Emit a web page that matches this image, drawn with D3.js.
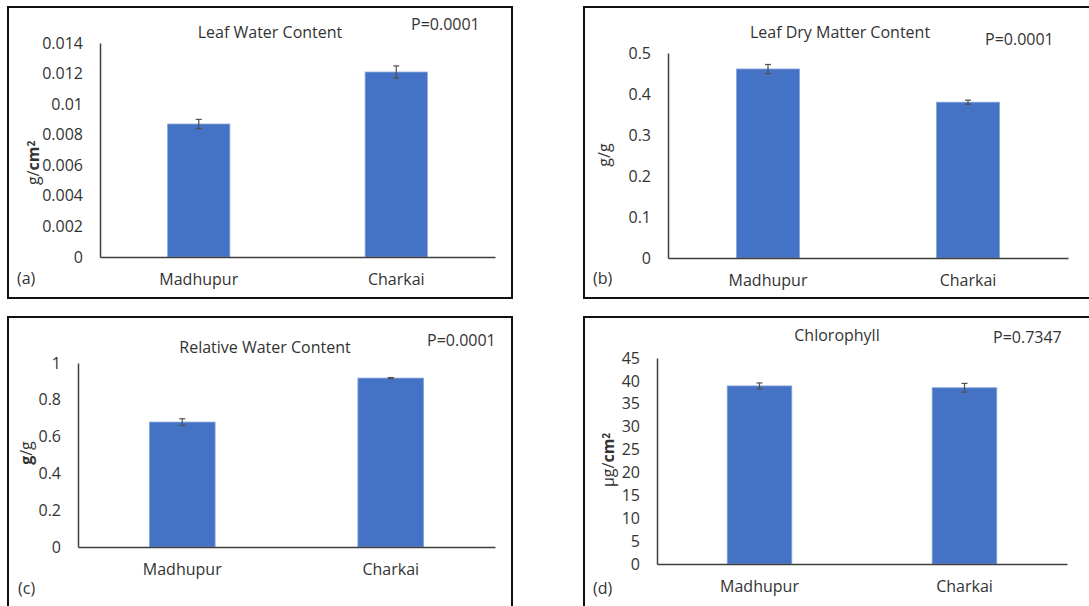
<!DOCTYPE html>
<html>
<head>
<meta charset="utf-8">
<script src="https://cdn.jsdelivr.net/npm/d3@7"></script>
<style>
  html, body { margin: 0; padding: 0; background: #fff; }
  svg { display: block; font-family: "Open Sans", sans-serif; }
</style>
</head>
<body>
<svg id="chart" width="1089" height="606"></svg>
<script>
// ---------------- DATA ----------------
const categories = ["Madhupur", "Charkai"];

const lwcMeans = [0.0087, 0.0121];
const lwcErrors = [0.0003, 0.0004];
const lwcTicks = [0, 0.002, 0.004, 0.006, 0.008, 0.01, 0.012, 0.014];
const lwcTickLabels = ["0", "0.002", "0.004", "0.006", "0.008", "0.01", "0.012", "0.014"];

const ldmcMeans = [0.461, 0.380];
const ldmcErrors = [0.011, 0.005];
const ldmcTicks = [0, 0.1, 0.2, 0.3, 0.4, 0.5];
const ldmcTickLabels = ["0", "0.1", "0.2", "0.3", "0.4", "0.5"];

const rwcMeans = [0.679, 0.918];
const rwcErrors = [0.018, 0.003];
const rwcTicks = [0, 0.2, 0.4, 0.6, 0.8, 1];
const rwcTickLabels = ["0", "0.2", "0.4", "0.6", "0.8", "1"];

const chlMeans = [38.9, 38.5];
const chlErrors = [0.65, 0.95];
const chlTicks = [0, 5, 10, 15, 20, 25, 30, 35, 40, 45];
const chlTickLabels = ["0", "5", "10", "15", "20", "25", "30", "35", "40", "45"];

const titles = ["Leaf Water Content", "Leaf Dry Matter Content", "Relative Water Content", "Chlorophyll"];
const pValues = ["P=0.0001", "P=0.0001", "P=0.0001", "P=0.7347"];
const panelTags = ["(a)", "(b)", "(c)", "(d)"];

// ---------------- LAYOUT ----------------
const panels = [
  { means: lwcMeans, errs: lwcErrors, ticks: lwcTicks, tickLabels: lwcTickLabels,
    box: [8, 7, 504, 291], x0: 100, x1: 495, yTop: 43, yBase: 257,
    title: [270, 38], p: [411, 30], tag: [17, 284], ylab: [39, 163],
    ylabParts: [["g/", "normal"], ["cm", "bold"], ["2", "bold", true]] },
  { means: ldmcMeans, errs: ldmcErrors, ticks: ldmcTicks, tickLabels: ldmcTickLabels,
    box: [584, 7, 520, 291], x0: 668, x1: 1068, yTop: 53, yBase: 258,
    title: [840, 38], p: [985, 45], tag: [593, 284], ylab: [610, 155],
    ylabParts: [["g/g", "normal"]] },
  { means: rwcMeans, errs: rwcErrors, ticks: rwcTicks, tickLabels: rwcTickLabels,
    box: [8, 317, 504, 320], x0: 78, x1: 495, yTop: 363, yBase: 547,
    title: [265, 353], p: [427, 346], tag: [18, 594], ylab: [32, 453],
    ylabParts: [["g", "bold"], ["/g", "normal"]] },
  { means: chlMeans, errs: chlErrors, ticks: chlTicks, tickLabels: chlTickLabels,
    box: [584, 317, 520, 320], x0: 657, x1: 1067, yTop: 358, yBase: 564,
    title: [837, 341], p: [993, 343], tag: [593, 594], ylab: [614, 460],
    ylabParts: [["\u03bcg/", "normal"], ["cm", "bold"], ["2", "bold", true]] }
];

const textColor = "#333333";
const axisColor = "#3f3f3f";
const barColor = "#4472C4";

const svg = d3.select("#chart");

panels.forEach((pn, i) => {
  const g = svg.append("g");

  // panel frame
  g.append("rect")
    .attr("x", pn.box[0]).attr("y", pn.box[1])
    .attr("width", pn.box[2]).attr("height", pn.box[3])
    .attr("fill", "none").attr("stroke", "#111").attr("stroke-width", 2);

  const x = d3.scaleBand().domain(categories).range([pn.x0, pn.x1]).padding(0);
  const maxV = pn.ticks[pn.ticks.length - 1];
  const y = d3.scaleLinear().domain([0, maxV]).range([pn.yBase, pn.yTop]);
  const barW = x.bandwidth() * 0.315;

  // bars
  g.selectAll("rect.bar").data(categories).join("rect")
    .attr("class", "bar")
    .attr("x", d => x(d) + x.bandwidth() / 2 - barW / 2)
    .attr("width", barW)
    .attr("y", (d, j) => y(pn.means[j]))
    .attr("height", (d, j) => pn.yBase - y(pn.means[j]))
    .attr("fill", barColor)
    .attr("stroke", "#86a3da").attr("stroke-width", 0.8);

  // error bars
  const eb = g.selectAll("g.err").data(categories).join("g").attr("class", "err")
    .attr("stroke", "#505050").attr("stroke-width", 1.2);
  eb.append("line")
    .attr("x1", d => x(d) + x.bandwidth() / 2).attr("x2", d => x(d) + x.bandwidth() / 2)
    .attr("y1", (d, j) => y(pn.means[j] - pn.errs[j]))
    .attr("y2", (d, j) => y(pn.means[j] + pn.errs[j]));
  [-1, 1].forEach(s => {
    eb.append("line")
      .attr("x1", d => x(d) + x.bandwidth() / 2 - 3).attr("x2", d => x(d) + x.bandwidth() / 2 + 3)
      .attr("y1", (d, j) => y(pn.means[j] + s * pn.errs[j]))
      .attr("y2", (d, j) => y(pn.means[j] + s * pn.errs[j]));
  });

  // y axis
  const yAxis = d3.axisLeft(y).tickValues(pn.ticks)
    .tickFormat((d, j) => pn.tickLabels[j])
    .tickSize(0).tickSizeOuter(0).tickPadding(17);
  const ya = g.append("g").attr("transform", `translate(${pn.x0},0)`).call(yAxis);
  ya.select(".domain").attr("stroke", axisColor).attr("stroke-width", 1.5);
  ya.selectAll("text").attr("fill", textColor).style("font-size", "16px")
    .style("font-family", "'Open Sans', sans-serif");

  // x axis
  const xAxis = d3.axisBottom(x).tickSize(0).tickSizeOuter(0).tickPadding(17);
  const xa = g.append("g").attr("transform", `translate(0,${pn.yBase})`).call(xAxis);
  xa.select(".domain").attr("stroke", axisColor).attr("stroke-width", 1.5);
  xa.selectAll("text").attr("fill", textColor).style("font-size", "16px")
    .style("font-family", "'Open Sans', sans-serif");

  // title
  g.append("text").attr("x", pn.title[0]).attr("y", pn.title[1])
    .attr("text-anchor", "middle").attr("fill", textColor)
    .style("font-size", "16px").text(titles[i]);

  // p value
  g.append("text").attr("x", pn.p[0]).attr("y", pn.p[1])
    .attr("fill", textColor).style("font-size", "16px").text(pValues[i]);

  // panel tag
  g.append("text").attr("x", pn.tag[0]).attr("y", pn.tag[1])
    .attr("fill", textColor).style("font-size", "16px").text(panelTags[i]);

  // y label
  const yl = g.append("text")
    .attr("transform", `translate(${pn.ylab[0]},${pn.ylab[1]}) rotate(-90)`)
    .attr("text-anchor", "middle").attr("fill", textColor)
    .style("font-size", "16px");
  pn.ylabParts.forEach(pt => {
    const ts = yl.append("tspan").text(pt[0]).style("font-weight", pt[1]);
    if (pt[2]) ts.attr("dy", "-0.45em").style("font-size", "10px");
  });
});
</script>
</body>
</html>
